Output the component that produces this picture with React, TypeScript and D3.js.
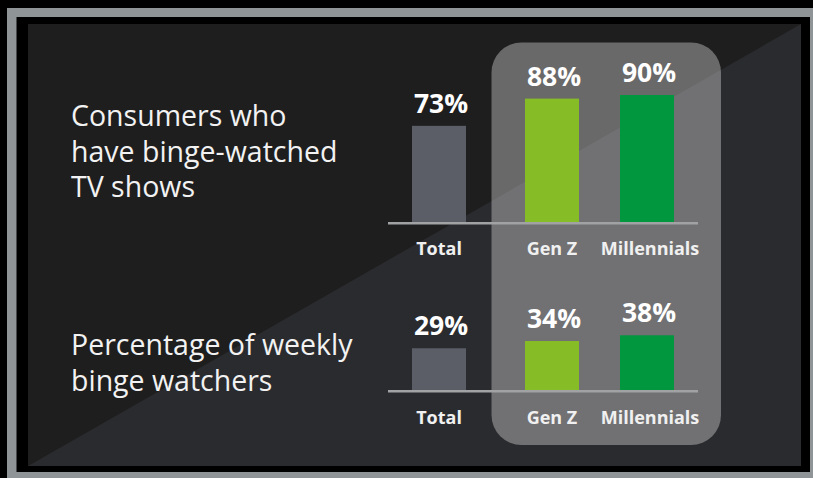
import React from "react";
import * as d3 from "d3";

const categories = ["Total", "Gen Z", "Millennials"];
const bingeValues = [73, 88, 90];
const weeklyValues = [29, 34, 38];
const panelTitles = [
  ["Consumers who", "have binge-watched", "TV shows"],
  ["Percentage of weekly", "binge watchers"],
];
const barColors = ["#5b5e67", "#86bc25", "#00973f"];

const W = 813;
const H = 478;
const FONT = "'Open Sans', 'Noto Sans', sans-serif";

export default function App() {
  const x = d3.scaleOrdinal<string, number>().domain(categories).range([439, 552, 647]);
  const barW = 54;

  const panels = [
    {
      values: bingeValues,
      y: d3.scaleLinear().domain([20, 90]).range([222, 95]),
      base: 222,
      labelY: 255,
      titleY: 126,
      title: panelTitles[0],
    },
    {
      values: weeklyValues,
      y: d3.scaleLinear().domain([0, 100]).range([390, 246]),
      base: 390,
      labelY: 423.5,
      titleY: 355,
      title: panelTitles[1],
    },
  ];

  return (
    <svg
      width={W}
      height={H}
      style={{ position: "fixed", left: 0, top: 0, display: "block" }}
      fontFamily={FONT}
    >
      <rect x={0} y={0} width={W} height={H} fill="#000" />
      <rect x={7} y={8} width={820} height={480} fill="#8f9496" />
      <rect x={16.5} y={17} width={793.5} height={455} fill="#000" />
      <rect x={28} y={24} width={773} height={442} fill="#1e1e1e" />
      <path d="M28,466 L801,24 L801,466 Z" fill="#2a2b2e" />
      <rect x={491.5} y={42.5} width={229.5} height={402.5} rx={30} fill="#fff" fillOpacity={0.335} />

      {panels.map((p, pi) => (
        <g key={pi}>
          {p.title.map((t, i) => (
            <text key={i} x={71} y={p.titleY + i * 35.7} fill="#f2f2f2" fontSize={28.5}>
              {t}
            </text>
          ))}
          {categories.map((c, i) => (
            <g key={c}>
              <rect
                x={x(c) - barW / 2}
                y={p.y(p.values[i])}
                width={barW}
                height={p.base - p.y(p.values[i])}
                fill={barColors[i]}
              />
              <text
                x={x(c) + 2}
                y={p.y(p.values[i]) - 13}
                fill="#fff"
                fontSize={26.5}
                fontWeight={700}
                textAnchor="middle"
              >
                {p.values[i]}%
              </text>
              <text
                x={x(c) + (i === 2 ? 3 : 0)}
                y={p.labelY}
                fill="#f0f0f0"
                fontSize={18}
                fontWeight={700}
                textAnchor="middle"
              >
                {c}
              </text>
            </g>
          ))}
          <line x1={388} x2={698} y1={p.base + 1.2} y2={p.base + 1.2} stroke="#a0a2a4" strokeWidth={2.5} />
        </g>
      ))}
    </svg>
  );
}
